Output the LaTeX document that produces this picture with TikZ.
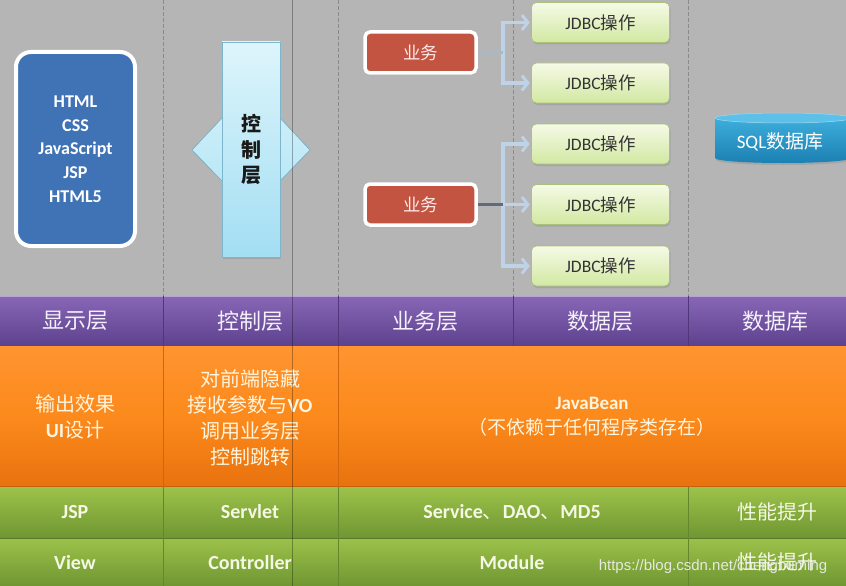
\documentclass[tikz,border=0pt]{standalone}
\usepackage{fontspec}
\setmainfont{Carlito}
\newfontfamily\cjk{Noto Sans CJK SC}
\newfontfamily\lat{Carlito}
\newfontfamily\wmfont{Liberation Sans}
\usetikzlibrary{arrows.meta,shadows}
\definecolor{bggray}{HTML}{B5B5B5}
\definecolor{dashgray}{HTML}{8A8A8A}
\definecolor{purtop}{HTML}{8767B6}
\definecolor{purbot}{HTML}{5E418E}
\definecolor{ortop}{HTML}{FF9430}
\definecolor{ormid}{HTML}{FC8A1C}
\definecolor{orbot}{HTML}{E8720E}
\definecolor{grtop}{HTML}{9DC24A}
\definecolor{grbot}{HTML}{6F9632}
\definecolor{titletxt}{HTML}{F4F0FA}
\definecolor{oratxt}{HTML}{FFF4DC}
\definecolor{grntxt}{HTML}{F4F8E4}
\definecolor{bluefill}{HTML}{3F73B6}
\definecolor{redfill}{HTML}{C25441}
\definecolor{ctltop}{HTML}{DDF5FB}
\definecolor{ctlbot}{HTML}{A3DEF3}
\definecolor{ctlline}{HTML}{7DB6CC}
\definecolor{jtop}{HTML}{F5FAE6}
\definecolor{jbot}{HTML}{D2E8A2}
\definecolor{jline}{HTML}{A9C27A}
\definecolor{conn}{HTML}{BFD3E8}
\definecolor{stemc}{HTML}{A6B9CC}
\definecolor{stemd}{HTML}{5F6B78}
\definecolor{cyltop}{HTML}{3DAEDC}
\definecolor{cylbot}{HTML}{1C80B2}
\definecolor{cylcap}{HTML}{5CC0E8}
\tikzset{
  bandtitle/.style={text=titletxt, font=\cjk\fontsize{22}{26}\selectfont, inner sep=0pt},
  oratext/.style={text=oratxt, font=\cjk\fontsize{20}{26}\selectfont, align=center, inner sep=0pt},
  grtext/.style={text=grntxt, font=\lat\bfseries\fontsize{20}{24}\selectfont, inner sep=0pt},
  grcjk/.style={text=grntxt, font=\cjk\fontsize{20}{24}\selectfont, inner sep=0pt},
  divline/.style={line width=0.8pt},
  colsep/.style={draw=dashgray, line width=0.7pt, dash pattern=on 4pt off 2pt},
  bluebox/.style={fill=bluefill, draw=white, line width=4pt, rounded corners=15pt,
     minimum width=119pt, minimum height=194pt, align=center, text=white,
     font=\lat\bfseries\fontsize{18}{23.7}\selectfont,
     drop shadow={opacity=0.3, shadow xshift=1pt, shadow yshift=-2pt}},
  ctlbox/.style={top color=ctltop, bottom color=ctlbot, draw=ctlline, line width=0.6pt,
     minimum width=58pt, minimum height=215pt, align=center,
     font=\cjk\bfseries\fontsize{20}{25.5}\selectfont, text=black!90,
     drop shadow={opacity=0.3, shadow xshift=1pt, shadow yshift=-2pt}},
  redbox/.style={fill=redfill, draw=white, line width=3.5pt, rounded corners=5pt,
     minimum width=111pt, minimum height=41pt, text=white!92!red,
     font=\cjk\fontsize{17.5}{20}\selectfont,
     drop shadow={opacity=0.3, shadow xshift=1pt, shadow yshift=-2pt}},
  jbox/.style={top color=jtop, bottom color=jbot, draw=jline, line width=0.6pt,
     rounded corners=5pt, minimum width=138pt, minimum height=40pt,
     text=black!80, font=\cjk\fontsize{17.5}{20}\selectfont,
     drop shadow={opacity=0.3, shadow xshift=1pt, shadow yshift=-2pt}},
  stem/.style={draw=stemc, line width=3.5pt},
  branch/.style={draw=conn, line width=3.5pt, -{Straight Barb[length=6pt,width=15pt,line width=2.8pt]}},
}
\begin{document}
\begin{tikzpicture}[x=1pt,y=-1pt]
\useasboundingbox (0,0) rectangle (846,586);
% backgrounds
\fill[bggray] (0,0) rectangle (846,296);
\foreach \xx in {163,338,513,688} \draw[colsep] (\xx,0) -- (\xx,296);
\shade[top color=purtop, bottom color=purbot] (0,296) rectangle (846,346);
\shade[top color=ortop, bottom color=orbot, middle color=ormid] (0,346) rectangle (846,487);
\shade[top color=grtop, bottom color=grbot] (0,487) rectangle (846,538);
\shade[top color=grtop, bottom color=grbot] (0,538) rectangle (846,586);
\draw[white!40!purtop, line width=1pt] (0,296.5) -- (846,296.5);
\draw[orbot!85!black, line width=1pt] (0,486.5) -- (846,486.5);
\draw[grbot!80!black, line width=0.8pt] (0,538) -- (846,538);
% band dividers
\foreach \xx in {163,338,513,688} \draw[divline, purbot!85!black] (\xx,296) -- (\xx,346);
\foreach \xx in {163,338} \draw[divline, orbot!90!black] (\xx,346) -- (\xx,487);
\foreach \xx in {163,338,688} \draw[divline, grbot!90!black] (\xx,487) -- (\xx,586);
% titles
\node[bandtitle] (t1) at (75,321) {显示层};
\node[bandtitle] (t2) at (250,321) {控制层};
\node[bandtitle] (t3) at (425,321) {业务层};
\node[bandtitle] (t4) at (600,321) {数据层};
\node[bandtitle] (t5) at (775,321) {数据库};
% orange row
\node[oratext] (o1) at (75,417) {输出效果\\{\lat\bfseries UI}设计};
\node[oratext] (o2) at (250,417.5) {对前端隐藏\\接收参数与{\lat\bfseries VO}\\调用业务层\\控制跳转};
\node[oratext, font=\cjk\fontsize{19}{25}\selectfont] (o3) at (592,416.5) {{\lat\bfseries JavaBean}\\（不依赖于任何程序类存在）};
% green rows
\node[grtext] (g1) at (75,512) {JSP};
\node[grtext] (g2) at (250,512) {Servlet};
\node[grtext] (g3) at (512,512) {Service{\cjk\mdseries 、}DAO{\cjk\mdseries 、}MD5};
\node[grcjk] (g4) at (777,512) {性能提升};
\node[grtext] (h1) at (75,563) {View};
\node[grtext] (h2) at (250,563) {Controller};
\node[grtext] (h3) at (512,563) {Module};
\node[grcjk] (h4) at (777,562) {性能提升};
% presentation box
\node[bluebox] (front) at (75.5,149) {HTML\\CSS\\JavaScript\\JSP\\HTML5};
% control arrow
\fill[top color=ctltop!70!ctlbot, bottom color=ctltop!40!ctlbot, draw=ctlline, line width=0.6pt]
  (192,150) -- (223,117) -- (223,182) -- cycle;
\fill[top color=ctltop!70!ctlbot, bottom color=ctltop!40!ctlbot, draw=ctlline, line width=0.6pt]
  (310,150) -- (279,117) -- (279,182) -- cycle;
\node[ctlbox] (ctl) at (251,149.5) {控\\制\\层};
% business boxes
\node[redbox] (yw1) at (420.5,52.5) {业务};
\node[redbox] (yw2) at (420.5,204.5) {业务};
% jdbc boxes
\node[jbox] (j1) at (600.5,22.5) {{\lat JDBC}操作};
\node[jbox] (j2) at (600.5,83) {{\lat JDBC}操作};
\node[jbox] (j3) at (600.5,144) {{\lat JDBC}操作};
\node[jbox] (j4) at (600.5,204.5) {{\lat JDBC}操作};
\node[jbox] (j5) at (600.5,266) {{\lat JDBC}操作};
% connectors
\coordinate (b1) at (503,52.5);
\coordinate (b2) at (503,204.5);
\draw[branch] (b1) |- ([xshift=-1.5pt]j1.west);
\draw[branch] (b1) |- ([xshift=-1.5pt]j2.west);
\draw[branch] (b2) |- ([xshift=-1.5pt]j3.west);
\draw[branch] (b2) -- ([xshift=-1.5pt]j4.west);
\draw[branch] (b2) |- ([xshift=-1.5pt]j5.west);
\draw[stem] (yw1.east) -- (b1);
\draw[stem, draw=stemd] (yw2.east) -- (b2);
% database cylinder
\shade[top color=cyltop, bottom color=cylbot, drop shadow={opacity=0.3, shadow xshift=1pt, shadow yshift=-2pt}]
  (715,118) -- (715,158) arc[start angle=180, end angle=0, x radius=68, y radius=5]
  -- (851,118) arc[start angle=0, end angle=180, x radius=68, y radius=5] -- cycle;
\fill[cylcap, draw=cylcap!60!white, line width=0.5pt] (783,118) ellipse[x radius=68, y radius=5];
\node[text=white, font=\cjk\fontsize{19}{22}\selectfont, inner sep=0pt] (db) at (780,142) {{\lat SQL}数据库};
% overlay line
\draw[black, opacity=0.3, line width=1.6pt] (292.5,0) -- (292.5,586);
% watermark
\node[text=white!88!gray, opacity=0.9, font=\wmfont\fontsize{15}{18}\selectfont, inner sep=0pt] (wm) at (713,567) {https://blog.csdn.net/chengbuming};
\end{tikzpicture}
\end{document}
